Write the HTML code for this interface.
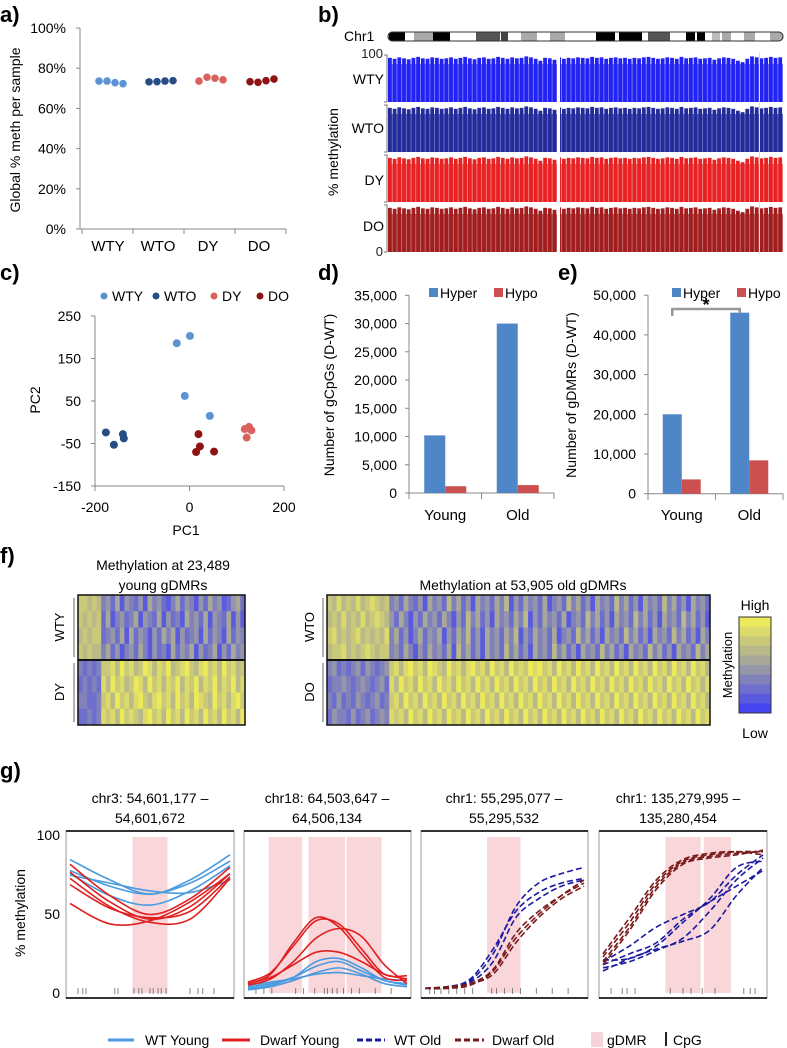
<!DOCTYPE html>
<html><head><meta charset="utf-8">
<style>
html,body{margin:0;padding:0;background:#fff;}
svg{display:block;font-family:"Liberation Sans",sans-serif;}
.lbl{font-size:22px;font-weight:bold;}
.tk{font-size:13px;fill:#222;}
.cat{font-size:15px;fill:#111;}
</style></head>
<body>
<svg id="fig" width="787" height="1048" viewBox="0 0 787 1048" xmlns="http://www.w3.org/2000/svg">
<!-- panel labels -->
<text x="0" y="22" class="lbl">a)</text>
<text x="318" y="22" class="lbl">b)</text>
<text x="0" y="280" class="lbl">c)</text>
<text x="318" y="280" class="lbl">d)</text>
<text x="558" y="280" class="lbl">e)</text>
<text x="0" y="563" class="lbl">f)</text>
<text x="0" y="778" class="lbl">g)</text>

<!-- panel a -->
<g id="pa">
<text transform="translate(20,130) rotate(-90)" text-anchor="middle" font-size="14">Global % meth per sample</text>
</g>
<!-- panel b -->
<g id="pb">
<text x="344" y="41" font-size="14">Chr1</text>
<text transform="translate(338,152) rotate(-90)" text-anchor="middle" font-size="14">% methylation</text>
<text x="383" y="58" text-anchor="end" class="tk" font-size="14">100</text>
<text x="383" y="256" text-anchor="end" class="tk" font-size="14">0</text>
</g>
<!-- panel c -->
<g id="pc">
<text x="186" y="535" text-anchor="middle" font-size="14">PC1</text>
<text transform="translate(40,400) rotate(-90)" text-anchor="middle" font-size="14">PC2</text>
</g>
<g id="pd">
<text transform="translate(334,395) rotate(-90)" text-anchor="middle" font-size="14">Number of gCpGs  (D-WT)</text>
</g>
<g id="pe">
<text transform="translate(576,395) rotate(-90)" text-anchor="middle" font-size="14">Number of gDMRs  (D-WT)</text>
</g>
<!-- panel f -->
<g id="pf">
<text x="163" y="570" text-anchor="middle" font-size="14">Methylation at 23,489</text>
<text x="163" y="590" text-anchor="middle" font-size="14">young gDMRs</text>
<text x="523" y="590" text-anchor="middle" font-size="14">Methylation at 53,905 old gDMRs</text>
<text transform="translate(64,627) rotate(-90)" text-anchor="middle" font-size="13">WTY</text>
<text transform="translate(64,692) rotate(-90)" text-anchor="middle" font-size="13">DY</text>
<text transform="translate(314,627) rotate(-90)" text-anchor="middle" font-size="13">WTO</text>
<text transform="translate(314,692) rotate(-90)" text-anchor="middle" font-size="13">DO</text>
<text x="755" y="610" text-anchor="middle" font-size="14">High</text>
<text x="755" y="738" text-anchor="middle" font-size="14">Low</text>
<text transform="translate(732,665) rotate(-90)" text-anchor="middle" font-size="13">Methylation</text>
</g>
<!-- panel g -->
<g id="pg">
<text transform="translate(25,913) rotate(-90)" text-anchor="middle" font-size="14">% methylation</text>
<text x="60" y="840" text-anchor="end" font-size="14">100</text>
<text x="60" y="919" text-anchor="end" font-size="14">50</text>
<text x="60" y="998" text-anchor="end" font-size="14">0</text>
<text x="150" y="803" text-anchor="middle" font-size="14">chr3: 54,601,177 –</text>
<text x="150" y="823" text-anchor="middle" font-size="14">54,601,672</text>
<text x="327" y="803" text-anchor="middle" font-size="14">chr18: 64,503,647 –</text>
<text x="327" y="823" text-anchor="middle" font-size="14">64,506,134</text>
<text x="504" y="803" text-anchor="middle" font-size="14">chr1: 55,295,077 –</text>
<text x="504" y="823" text-anchor="middle" font-size="14">55,295,532</text>
<text x="678" y="803" text-anchor="middle" font-size="14">chr1: 135,279,995 –</text>
<text x="678" y="823" text-anchor="middle" font-size="14">135,280,454</text>
<g>
<line x1="108" y1="1040" x2="134" y2="1040" stroke="#4a9ae0" stroke-width="3"/>
<text x="145" y="1045" font-size="14">WT Young</text>
<line x1="222" y1="1040" x2="250" y2="1040" stroke="#e02020" stroke-width="3"/>
<text x="260" y="1045" font-size="14">Dwarf Young</text>
<line x1="357" y1="1040" x2="385" y2="1040" stroke="#1a1aa0" stroke-width="3" stroke-dasharray="6,3"/>
<text x="394" y="1045" font-size="14">WT Old</text>
<line x1="455" y1="1040" x2="484" y2="1040" stroke="#7a1a1a" stroke-width="3" stroke-dasharray="6,3"/>
<text x="492" y="1045" font-size="14">Dwarf Old</text>
<rect x="591" y="1032" width="12" height="15" fill="#f6d3d8"/>
<text x="607" y="1045" font-size="14">gDMR</text>
<rect x="665" y="1032" width="2" height="14" fill="#222"/>
<text x="673" y="1045" font-size="14">CpG</text>
</g>
</g>
</svg>
<script>
// ---------- DATA ----------
// panel a
const aCategories = ['WTY','WTO','DY','DO'];
const aValues = [[73.6,73.6,72.8,72.3],[73.2,73.3,73.6,73.8],[73.6,75.5,75.0,74.2],[73.3,73.0,73.8,74.6]];
const aTicks = [0,20,40,60,80,100];
// panel b
const bTracks = ['WTY','WTO','DY','DO'];
const bProfile = [92,90,93,91,89,92,94,91,90,93,92,90,91,93,90,92,94,91,89,92,93,90,91,94,92,90,93,91,92,95,93,90,86,92,91,88,93,90,92,91,93,92,
  91,94,92,93,90,92,93,91,92,90,92,91,93,94,92,90,91,93,92,90,94,91,92,93,90,91,92,88,91,93,92,90,86,83,90,95,93,91,92,94,92,93];
// panel c
const cTicksY = [250,150,50,-50,-150];
const cTicksX = [-200,0,200];
const cGroups = ['WTY','WTO','DY','DO'];
const cPC1 = [[-27,1,-10,43],[-177,-160,-141,-139],[117,126,131,121],[19,22,14,52]];
const cPC2 = [[186,203,62,15],[-24,-53,-28,-38],[-16,-11,-19,-36],[-28,-57,-70,-69]];
// panel d/e
const deCategories = ['Young','Old'];
const dHyper = [10200,30000];
const dHypo = [1200,1400];
const dTicks = [0,5000,10000,15000,20000,25000,30000,35000];
const eHyper = [20000,45600];
const eHypo = [3600,8400];
const eTicks = [0,10000,20000,30000,40000,50000];
// panel f heatmaps (0 low .. 9 high)
const fYoung = [
 "776763425143241534213524314253412452",
 "767672513423514325142315342514325141",
 "676772342515243142535142341524315243",
 "767663524134253142315243514235142534",
 "323237786978679868796789768978697867",
 "232328697867986978687968796879687968",
 "332237869786897689786978698769786897",
 "223238786978768978697869786978697869"];
const fOld = [
 "76867686787673425324153426352415342536142534251342635241534263524153426352415342",
 "67686768678764253142534253142635241534253614253425134263524153426352415342635241",
 "78676786767683524135243514253624153425361425342513426352415342635241534263524153",
 "67786767876773425314253425163524153426352415342635241534263524153426352415342635",
 "34232342432347868978698769786897869786978798978697869786978697869786978697869786",
 "23343234323428697869786978697869786978697869786978697869786978697869786978697868",
 "32423243234237869786978697869786978697869786978697869786978697869786978697869786",
 "24332423423438786978697869786978697869786978697869786978697869786978697869786978"];
// panel g (values at evenly spaced positions across region)
const g1WTY = [[85,72,63,72,88],[78,68,63,70,84],[76,62,56,65,81],[75,70,65,64,72]];
const g1DY = [[82,62,50,60,80],[77,58,47,55,76],[69,54,48,52,74],[57,44,46,58,76],[73,55,45,47,73]];
const g2WTY = [[3,5,10,20,22,16,8,6],[4,6,10,17,20,14,8,5],[2,4,8,13,16,12,6,4],[5,7,9,12,13,11,9,8]];
const g2DY = [[6,12,32,48,42,25,10,8],[7,13,30,46,44,28,12,11],[5,9,20,35,41,36,18,6],[6,10,18,26,26,20,12,9]];
const g3WTO = [[3,4,8,25,55,70,76,80],[3,4,9,28,52,64,70,73],[3,4,7,20,48,60,68,72]];
const g3DO = [[3,3,6,15,38,52,62,70],[3,4,6,12,32,48,60,68],[3,3,5,14,35,50,62,72]];
const g4WTO = [[20,30,42,50,58,75,88],[14,22,28,33,40,62,80],[18,25,32,47,58,68,78],[21,22,30,45,60,80,84],[16,20,27,35,52,72,86]];
const g4DO = [[23,45,70,84,88,90,90],[20,42,68,83,87,89,90],[25,48,72,85,89,90,88],[18,40,66,82,86,88,91]];
const gDMR = [[[0.39,0.61]],[[0.13,0.34],[0.38,0.61],[0.62,0.84]],[[0.39,0.6]],[[0.39,0.61],[0.63,0.8]]];
const gCpG = [[0.05,0.08,0.1,0.28,0.3,0.4,0.43,0.45,0.5,0.52,0.55,0.57,0.6,0.75,0.8,0.83,0.9],
 [0.05,0.1,0.15,0.3,0.35,0.42,0.48,0.5,0.53,0.56,0.6,0.65,0.7,0.8,0.9],
 [0.03,0.06,0.1,0.15,0.2,0.25,0.3,0.42,0.45,0.5,0.55,0.6,0.7,0.8,0.9],
 [0.05,0.12,0.15,0.2,0.42,0.5,0.55,0.62,0.7,0.88,0.92,0.95]];

// ---------- HELPERS ----------
const NS='http://www.w3.org/2000/svg';
const svg=document.getElementById('fig');
function mk(tag,attrs,parent){const el=document.createElementNS(NS,tag);for(const k in attrs)el.setAttribute(k,attrs[k]);(parent||svg).appendChild(el);return el;}
function txt(s,attrs,parent){const el=mk('text',attrs,parent);el.textContent=s;return el;}
function smooth(p){let d='M'+p[0][0]+','+p[0][1];for(let i=0;i<p.length-1;i++){const p0=p[i-1]||p[i],p1=p[i],p2=p[i+1],p3=p[i+2]||p2;
 d+=' C'+(p1[0]+(p2[0]-p0[0])/6)+','+(p1[1]+(p2[1]-p0[1])/6)+' '+(p2[0]-(p3[0]-p1[0])/6)+','+(p2[1]-(p3[1]-p1[1])/6)+' '+p2[0]+','+p2[1];}return d;}
function fmt(v){return v.toLocaleString('en-US');}

// ---------- PANEL A ----------
(function(){
 const g=document.getElementById('pa');
 const ya=v=>229-v/100*201;
 const cx=[108,158,208,259], off=[-9,-1,7,15];
 const colors=['#5b93d3','#284d85','#d9625f','#8e1414'];
 let el=mk('line',{x1:80,y1:ya(100),x2:80,y2:ya(0),stroke:'#888'},g);
 
 
 el=mk('line',{x1:80,y1:ya(0),x2:286,y2:ya(0),stroke:'#888'},g);
 
 
 aTicks.forEach(t=>{
  let e=mk('line',{x1:76,y1:ya(t),x2:80,y2:ya(t),stroke:'#888'},g);
  
  
  e=txt(t+'%',{x:66,y:ya(t)+5,'text-anchor':'end','font-size':14},g);
  
  
 });
 [82,133,184,235,286].forEach(x=>{const e=mk('line',{x1:x,y1:229,x2:x,y2:234,stroke:'#888'},g);
  
  });
 aCategories.forEach((c,i)=>{
  let e=txt(c,{x:cx[i],y:251,'text-anchor':'middle','font-size':15},g);
  
  
  aValues[i].forEach((v,j)=>{const p=mk('circle',{cx:cx[i]+off[j],cy:ya(v),r:3.8,fill:colors[i]},g);
   
   });
 });
})();

// ---------- PANEL B ----------
(function(){
 const g=document.getElementById('pb');
 const bands=[[389,405,'#000'],[414,433,'#aaa'],[433,450,'#000'],[476,500,'#555'],[501,508,'#444'],[521,537,'#aaa'],[550,565,'#aaa'],[596,615,'#000'],[619,642,'#000'],[648,670,'#555'],[686,695,'#000'],[697,705,'#000'],[712,720,'#bbb'],[722,731,'#aaa'],[744,755,'#aaa'],[770,783,'#aaa']];
 let cl=mk('clipPath',{id:'chrclip'},g);
 mk('rect',{x:388,y:32,width:395,height:9,rx:4.5},cl);
 let e=mk('rect',{x:388,y:32,width:395,height:9,rx:4.5,fill:'#fff',stroke:'#333'},g);
 
 
 bands.forEach(b=>{const r=mk('rect',{x:b[0],y:32,width:b[1]-b[0],height:9,fill:b[2],'clip-path':'url(#chrclip)'},g);
  
  });
 mk('rect',{x:388,y:32,width:395,height:9,rx:4.5,fill:'none',stroke:'#333'},g);
 const tops=[54,104,154,204], H=48;
 const colors=['#2222f2','#232a9a','#e82222','#a21e1e'], light=['#7a7af8','#6a70c0','#f08080','#c07070'];
 const lx=[79,128,180,226];
 const n=bProfile.length, w=395/n;
 bTracks.forEach((t,i)=>{
  const y0=tops[i]+H;
  let l=txt(t,{x:384,y:lx[i]+5,'text-anchor':'end','font-size':14},g);
  
  
  let bg=mk('rect',{x:388,y:tops[i]+10,width:395,height:H-10,fill:light[i]},g);
  
  
  bProfile.forEach((v,k)=>{
   const h=v/100*H;
   const r=mk('rect',{x:388+k*w,y:y0-h,width:w-0.9,height:h,fill:colors[i]},g);
   
   
  });
  let tk=mk('path',{d:`M384,${tops[i]+1} H387 V${y0} H384`,fill:'none',stroke:'#777'},g);
  
  
 });
 e=mk('rect',{x:557,y:52,width:3,height:202,fill:'#fff'},g);
 
 
 e=mk('rect',{x:759,y:52,width:1,height:202,fill:'#ddd'},g);
 
 
})();

// ---------- PANEL C ----------
(function(){
 const g=document.getElementById('pc');
 const xc=v=>95+(v+200)/400*189, yc=v=>486-(v+150)/400*170;
 const colors=['#5b93d3','#284d85','#d9625f','#8e1414'];
 let e=mk('line',{x1:95,y1:yc(250),x2:95,y2:486,stroke:'#888'},g);
 
 
 e=mk('line',{x1:95,y1:486,x2:284,y2:486,stroke:'#888'},g);
 
 
 cTicksY.forEach(t=>{let k=mk('line',{x1:91,y1:yc(t),x2:95,y2:yc(t),stroke:'#888'},g);
  
  
  k=txt(String(t),{x:81,y:yc(t)+5,'text-anchor':'end','font-size':14},g);
  
  });
 cTicksX.forEach(t=>{let k=mk('line',{x1:xc(t),y1:486,x2:xc(t),y2:491,stroke:'#888'},g);
  
  
  k=txt(String(t),{x:xc(t),y:512,'text-anchor':'middle','font-size':14},g);
  
  });
 const legx=[104,156,214,260];
 cGroups.forEach((c,i)=>{
  let d=mk('circle',{cx:legx[i],cy:296,r:3.5,fill:colors[i]},g);
  
  
  d=txt(c,{x:legx[i]+8,y:301,'font-size':14},g);
  
  
  cPC1[i].forEach((v,j)=>{const p=mk('circle',{cx:xc(v),cy:yc(cPC2[i][j]),r:4,fill:colors[i]},g);
   
   });
 });
})();

// ---------- PANELS D / E ----------
function barPanel(gid,x0,x1,y0,top,maxV,ticks,hyper,hypo,name,bw){
 const g=document.getElementById(gid);
 const y=v=>y0-v/maxV*(y0-top);
 const mid=(x0+x1)/2, centers=[(x0+mid)/2,(mid+x1)/2];
 let e=mk('line',{x1:x0,y1:top,x2:x0,y2:y0,stroke:'#888'},g);
 
 
 e=mk('line',{x1:x0,y1:y0,x2:x1,y2:y0,stroke:'#888'},g);
 
 
 [x0,mid,x1].forEach(x=>{const k=mk('line',{x1:x,y1:y0,x2:x,y2:y0+6,stroke:'#888'},g);
  
  });
 ticks.forEach(t=>{let k=mk('line',{x1:x0-4,y1:y(t),x2:x0,y2:y(t),stroke:'#888'},g);
  
  
  k=txt(fmt(t),{x:x0-12,y:y(t)+5,'text-anchor':'end','font-size':14},g);
  
  });
 deCategories.forEach((c,i)=>{
  let b=mk('rect',{x:centers[i]-bw,y:y(hyper[i]),width:bw,height:y0-y(hyper[i]),fill:'#4f86c8'},g);
  
  
  b=mk('rect',{x:centers[i],y:y(hypo[i]),width:bw,height:y0-y(hypo[i]),fill:'#cc5050'},g);
  
  
  b=txt(c,{x:centers[i],y:520,'text-anchor':'middle','font-size':15},g);
  
  
 });
 return {y,centers,bw};
}
(function(){
 barPanel('pd',409,554,493,295.3,35000,dTicks,dHyper,dHypo,'panel-d',21);
 const r=barPanel('pe',648,783,493.7,295.2,50000,eTicks,eHyper,eHypo,'panel-e',19);
 const g=document.getElementById('pe');
 const bx1=r.centers[0]-r.bw/2, bx2=r.centers[1]-r.bw/2;
 let e=mk('path',{d:`M${bx1},316 V309 H${bx2} V313`,fill:'none',stroke:'#999','stroke-width':2.5},g);
 
 
 e=txt('*',{x:(bx1+bx2)/2,y:311,'text-anchor':'middle','font-size':18,'font-weight':'bold'},g);
 
 
 // legends
 [[429,'pd'],[672,'pe']].forEach(([lx,gid])=>{
  const gg=document.getElementById(gid);
  let s=mk('rect',{x:lx,y:288,width:9,height:9,fill:'#4f86c8'},gg);
  
  
  s=txt('Hyper',{x:lx+11,y:298,'font-size':14},gg);
  
  
  s=mk('rect',{x:lx+65,y:288,width:9,height:9,fill:'#cc5050'},gg);
  
  
  s=txt('Hypo',{x:lx+76,y:298,'font-size':14},gg);
  
  
 });
})();

// ---------- PANEL F ----------
function cmap(v){const t=v/9;let a,b,u;
 if(t<0.5){a=[70,70,240];b=[160,160,160];u=t/0.5;}else{a=[160,160,160];b=[236,234,90];u=(t-0.5)/0.5;}
 return 'rgb('+a.map((c,i)=>Math.round(c+(b[i]-c)*u)).join(',')+')';}
function heat(rows,x0,x1,y0,y1,name){
 const g=document.getElementById('pf');
 const rh=(y1-y0)/rows.length;
 rows.forEach((row,r)=>{const cw=(x1-x0)/row.length;
  for(let c=0;c<row.length;c++){const cell=mk('rect',{x:x0+c*cw,y:y0+r*rh,width:cw+0.3,height:rh+0.3,fill:cmap(+row[c])},g);
   
   }
 });
 let e=mk('rect',{x:x0,y:y0,width:x1-x0,height:y1-y0,fill:'none',stroke:'#111','stroke-width':1.5},g);
 
 
 e=mk('line',{x1:x0,y1:(y0+y1)/2,x2:x1,y2:(y0+y1)/2,stroke:'#111','stroke-width':2},g);
 
 
 [[y0+3,(y0+y1)/2-3],[(y0+y1)/2+3,y1-3]].forEach(s=>{const b=mk('line',{x1:x0-4,y1:s[0],x2:x0-4,y2:s[1],stroke:'#999','stroke-width':1.5},g);
  
  });
}
(function(){
 heat(fYoung,78,245,595,725,'young-heatmap');
 heat(fOld,327,710,595,725,'old-heatmap');
 const g=document.getElementById('pf');
 const steps=[9,8,7,6,5,4,3,2,1,0];
 steps.forEach((v,i)=>{const r=mk('rect',{x:739,y:617+i*9.6,width:32,height:9.8,fill:cmap(v)},g);
  
  });
 let e=mk('rect',{x:739,y:617,width:32,height:96,fill:'none',stroke:'#333'},g);
 
 
})();

// ---------- PANEL G ----------
(function(){
 const g=document.getElementById('pg');
 const boxes=[[66,234],[244,411],[421,588],[599,767]];
 const top=831, bot=998;
 const yg=v=>993-v/100*157;
 const sets=[[[g1WTY,'#4a9ae0',null,'wt-young'],[g1DY,'#e02020',null,'dwarf-young']],
  [[g2WTY,'#4a9ae0',null,'wt-young'],[g2DY,'#e02020',null,'dwarf-young']],
  [[g3WTO,'#1a1aa0','6,3','wt-old'],[g3DO,'#7a1a1a','6,3','dwarf-old']],
  [[g4WTO,'#1a1aa0','6,3','wt-old'],[g4DO,'#7a1a1a','6,3','dwarf-old']]];
 boxes.forEach((bx,p)=>{
  const [x0,x1]=bx, w=x1-x0-8, xs=f=>x0+4+f*w;
  gDMR[p].forEach(r=>{const s=mk('rect',{x:xs(r[0]),y:top+6,width:xs(r[1])-xs(r[0]),height:993-top-6,fill:'#f8d6da'},g);
   
   });
  gCpG[p].forEach(f=>{const t=mk('line',{x1:xs(f),y1:988,x2:xs(f),y2:994,stroke:'#666','stroke-width':0.8},g);
   
   });
  sets[p].forEach(([series,col,dash,nm])=>{
   series.forEach(vals=>{
    const pts=vals.map((v,i)=>[xs(i/(vals.length-1)),yg(v)]);
    const a={d:smooth(pts),fill:'none',stroke:col,'stroke-width':1.6};
    if(dash)a['stroke-dasharray']=dash;
    const l=mk('path',a,g);
    
    
   });
  });
  let e=mk('rect',{x:x0,y:top,width:x1-x0,height:bot-top,fill:'none',stroke:'#999'},g);
  
  
  e=mk('line',{x1:x0,y1:top,x2:x1,y2:top,stroke:'#333','stroke-width':2},g);
  
  
  e=mk('line',{x1:x0,y1:bot,x2:x1,y2:bot,stroke:'#333','stroke-width':2},g);
  
  
 });
})();
</script>
</body></html>
